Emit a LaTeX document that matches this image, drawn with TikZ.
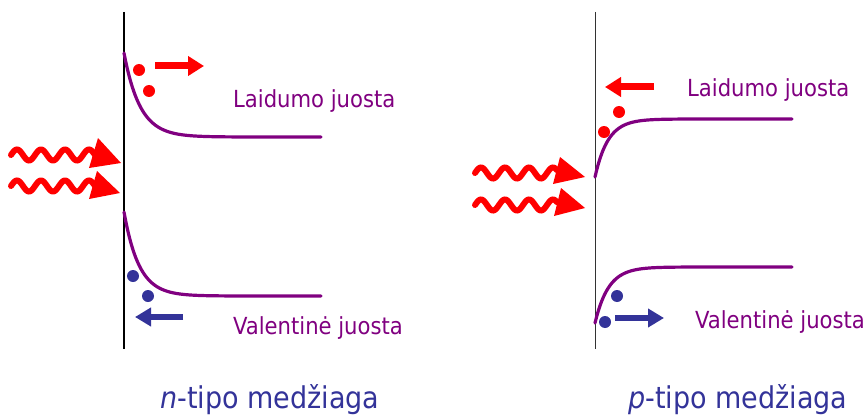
\documentclass[tikz,border=0pt]{standalone}
\usepackage{fontspec}
\setmainfont{DejaVu Sans Condensed}
\usetikzlibrary{arrows.meta}
\definecolor{bandpurple}{HTML}{800080}
\definecolor{holeblue}{HTML}{333399}
\definecolor{elred}{HTML}{FF0000}
\tikzset{
  wall/.style={black, line width=1.3pt},
  band/.style={bandpurple, line width=3.2pt, line cap=round},
  wave/.style={elred, line width=6pt, line cap=round},
  wavehead/.style={fill=elred, draw=none},
  redarrow/.style={elred, line width=7pt, -{Triangle[length=16pt,width=19pt]}},
  bluearrow/.style={holeblue, line width=6pt, -{Triangle[length=16pt,width=18pt]}},
  eldot/.style={fill=elred, draw=none},
  holedot/.style={fill=holeblue, draw=none},
  bandlabel/.style={text=bandpurple, font=\fontsize{23.5}{26}\selectfont, anchor=base west, inner sep=0pt},
  typelabel/.style={text=holeblue, font=\fontsize{30}{33}\selectfont, anchor=base west, inner sep=0pt}
}
\begin{document}
\begin{tikzpicture}[x=1pt,y=-1pt]
\useasboundingbox (0,0) rectangle (866,417);
% ---------- left panel: n-type ----------
\draw[wall] (124,12) -- (124,349);
\draw[band] plot[domain=124:321, samples=120] (\x, {137 - 84*exp(-(\x-124)/16)});
\draw[band] plot[domain=124:321, samples=120] (\x, {296 - 84*exp(-(\x-124)/15)});
\fill[eldot] (139,70) circle (6);
\fill[eldot] (149,91) circle (6);
\coordinate (lra) at (155,66); \coordinate (lrb) at (204,66);
\draw[redarrow] (lra) -- (lrb);
\fill[holedot] (133,276) circle (6);
\fill[holedot] (148,296) circle (6);
\coordinate (lba) at (183,317); \coordinate (lbb) at (135,317);
\draw[bluearrow] (lba) -- (lbb);
% waves left
\draw[wave] plot[domain=0:84, samples=100] (\x+11, {155 - 5.5*sin(\x*15)});
\fill[wavehead] (98,138) -- (121,163) -- (89,168) -- cycle;
\draw[wave] plot[domain=0:84, samples=100] (\x+11, {186 - 5.5*sin(\x*15)});
\fill[wavehead] (97,171) -- (120,193) -- (89,199) -- cycle;
\node[bandlabel] (lcb) at (233,107.5) {Laidumo juosta};
\node[bandlabel] (lvb) at (233,334) {Valentinė juosta};
\node[typelabel] (ntype) at (160,408) {\textit{n}-tipo medžiaga};
% ---------- right panel: p-type ----------
\draw[wall, line width=1pt, black!80] (595,12) -- (595,349);
\draw[band] plot[domain=595:792, samples=120] (\x, {119 + 58*exp(-(\x-595)/13)});
\draw[band] plot[domain=595:792, samples=120] (\x, {267 + 56*exp(-(\x-595)/13.5)});
\fill[eldot] (604,132) circle (6);
\fill[eldot] (619,112) circle (6);
\coordinate (rra) at (654,87); \coordinate (rrb) at (605,87);
\draw[redarrow] (rra) -- (rrb);
\fill[holedot] (605,322) circle (6);
\fill[holedot] (617,296) circle (6);
\coordinate (rba) at (615,318); \coordinate (rbb) at (664,318);
\draw[bluearrow] (rba) -- (rbb);
% waves right
\draw[wave] plot[domain=0:82, samples=100] (\x+475, {173 - 5.5*sin(\x*15)});
\fill[wavehead] (560,157) -- (585,177) -- (553,184) -- cycle;
\draw[wave] plot[domain=0:82, samples=100] (\x+475, {205 - 5.5*sin(\x*15)});
\fill[wavehead] (561,188) -- (585,208) -- (554,216) -- cycle;
\node[bandlabel] (rcb) at (687,97) {Laidumo juosta};
\node[bandlabel] (rvb) at (695,328) {Valentinė juosta};
\node[typelabel] (ptype) at (628,408) {\textit{p}-tipo medžiaga};
\end{tikzpicture}
\end{document}
